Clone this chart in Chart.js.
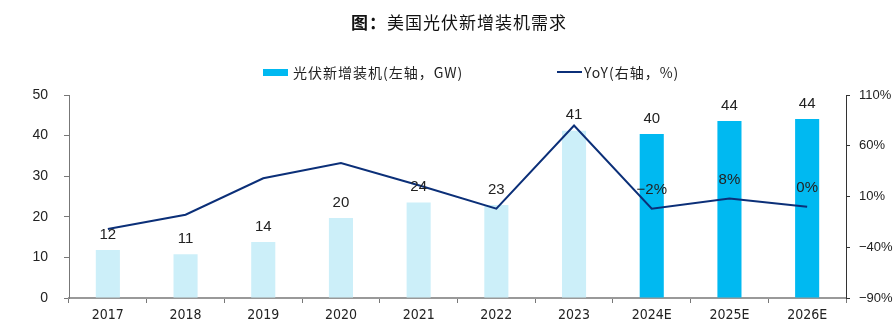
<!DOCTYPE html>
<html>
<head>
<meta charset="utf-8">
<script src="https://cdn.jsdelivr.net/npm/chart.js@4"></script>
<style>
  body { margin: 0; background: #fff; }
  #wrap { position: relative; width: 896px; height: 333px; }
  #title {
    position: absolute; left: 0; width: 918px; top: 9px;
    text-align: center; font: 17px "Noto Sans CJK SC", sans-serif; color: #111;
    letter-spacing: 1px;
  }
  .leg {
    position: absolute; top: 63px; height: 18px; display: flex; align-items: center;
    font: 14px "Noto Sans CJK SC", sans-serif; color: #222; letter-spacing: 1px;
  }
  .leg i { display: inline-block; margin-right: 5px; }
</style>
</head>
<body>
<div id="wrap">
  <canvas id="chart" width="896" height="333"></canvas>
  <div id="title"><b>图：</b>美国光伏新增装机需求</div>
  <div class="leg" style="left:263px"><i style="width:25px;height:7px;background:#00B9F1"></i>光伏新增装机(左轴，GW)</div>
  <div class="leg" style="left:557px"><i style="width:25px;height:2px;background:#0B2F78;margin-right:2px"></i>YoY(右轴，%)</div>
</div>
<script>
const years = ['2017', '2018', '2019', '2020', '2021', '2022', '2023', '2024E', '2025E', '2026E'];
const installs = [11.8, 10.8, 13.8, 19.7, 23.5, 22.9, 41.2, 40.4, 43.6, 44.1];
const yoy = [-22, -8, 28, 43, 21, -2, 80, -2, 8, 0];
const gwTicks = [0, 10, 20, 30, 40, 50];
const pctTicks = [-90, -40, 10, 60, 110];

const actualColor = '#CCEFF9';
const forecastColor = '#00B9F1';
const lineColor = '#0B2F78';

function pct(v) {
  return (v < 0 ? '\u2212' + Math.abs(v) : v) + '%';
}

// numbers over the bars, and YoY only for the forecast years
const valueLabels = {
  id: 'valueLabels',
  afterDatasetsDraw(chart) {
    const ctx = chart.ctx;
    ctx.save();
    ctx.font = '15px "Liberation Sans", Arial, sans-serif';
    ctx.fillStyle = '#222';
    ctx.textAlign = 'center';
    ctx.textBaseline = 'middle';
    chart.getDatasetMeta(0).data.forEach((bar, i) => {
      ctx.fillText(Math.round(installs[i]), bar.x, bar.y - 15.5);
    });
    chart.getDatasetMeta(1).data.forEach((pt, i) => {
      if (years[i].endsWith('E')) ctx.fillText(pct(yoy[i]), pt.x, pt.y - 18.5);
    });
    ctx.restore();
  }
};

new Chart(document.getElementById('chart'), {
  data: {
    labels: years,
    datasets: [{
      type: 'bar',
      label: '光伏新增装机(左轴，GW)',
      data: installs,
      yAxisID: 'y',
      order: 1,
      backgroundColor: years.map(y => y.endsWith('E') ? forecastColor : actualColor),
      categoryPercentage: 1,
      barPercentage: 0.31
    }, {
      type: 'line',
      label: 'YoY(右轴，%)',
      data: yoy,
      yAxisID: 'y1',
      order: 0,
      borderColor: lineColor,
      borderWidth: 2,
      pointRadius: 0,
      tension: 0
    }]
  },
  options: {
    responsive: false,
    animation: false,
    layout: { padding: { top: 95, left: 0, right: 0, bottom: 0 } },
    plugins: { legend: { display: false }, tooltip: { enabled: false } },
    scales: {
      x: {
        offset: true,
        grid: { offset: true, drawOnChartArea: false, tickLength: 5, color: '#777' },
        border: { color: '#999', width: 2 },
        ticks: {
          font: { family: '"DejaVu Sans Condensed", "Liberation Sans Narrow", "Liberation Sans"', size: 14 },
          color: '#222', padding: 4, maxRotation: 0, autoSkip: false
        },
        afterFit: s => { s.height = 35; }
      },
      y: {
        position: 'left',
        min: gwTicks[0], max: gwTicks[gwTicks.length - 1],
        afterBuildTicks: s => { s.ticks = gwTicks.map(v => ({ value: v })); },
        grid: { drawOnChartArea: false, tickLength: 5, color: '#777' },
        border: { color: '#777' },
        ticks: { font: { family: '"Liberation Sans", Arial', size: 14 }, color: '#222', padding: 16 },
        afterFit: s => { s.width = 69; }
      },
      y1: {
        position: 'right',
        min: pctTicks[0], max: pctTicks[pctTicks.length - 1],
        afterBuildTicks: s => { s.ticks = pctTicks.map(v => ({ value: v })); },
        grid: { drawOnChartArea: false, tickLength: 4, color: '#333' },
        border: { color: '#333' },
        ticks: {
          font: { family: '"Liberation Sans", Arial', size: 13 }, color: '#222', padding: 9,
          callback: v => pct(v)
        },
        afterFit: s => { s.width = 50; }
      }
    }
  },
  plugins: [valueLabels]
});
</script>
</body>
</html>
